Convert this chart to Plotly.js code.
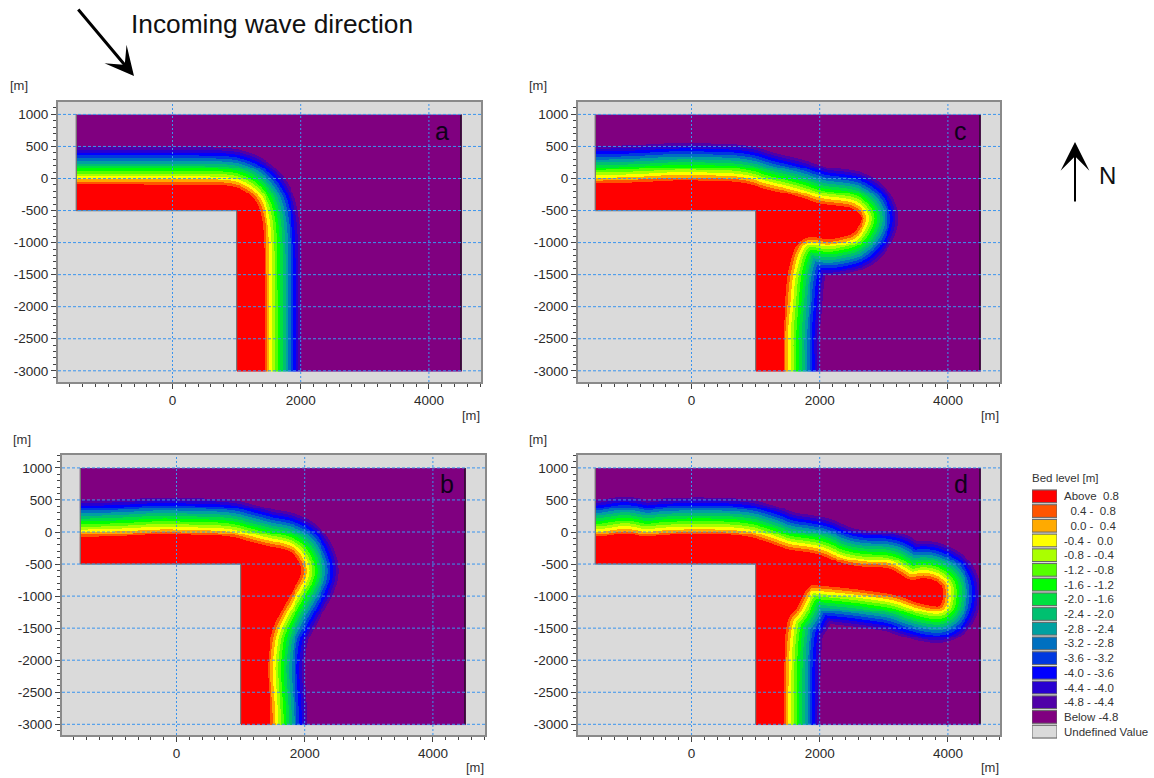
<!DOCTYPE html>
<html><head><meta charset="utf-8">
<script src="https://cdn.plot.ly/plotly-3.0.1.min.js"></script>
<style>html,body{margin:0;padding:0;background:#fff}#c{width:1154px;height:778px}.heatmaplayer image{filter:blur(0.4px)}</style>
</head><body><div id="c"></div>
<script>
// Position of the 0.8 m bed-level contour
const coastAx=[-3000,-1500,200,800,1000,1150,1280,1370,1415,1430,1430,1430];
const coastAy=[-90,-90,-90,-95,-130,-200,-320,-500,-800,-1200,-3000,-5000];
const coastBx=[-3000,-1489,-777,-257,263,783,1095,1407,1667,1849,1953,1937,1771,1615,1485,1433,1417,1440,1470,1470];
const coastBy=[-83,-83,-63,-31,-47,-57,-135,-219,-255,-343,-551,-697,-983,-1269,-1529,-1893,-2153,-2500,-3000,-5000];
const coastCx=[-3000,-1500,-855,-231,289,809,1173,1485,1797,2005,2369,2525,2655,2629,2525,2369,2109,1927,1797,1667,1563,1485,1459,1423,1430,1430];
const coastCy=[-75,-75,-60,-23,-34,-50,-169,-231,-325,-398,-429,-465,-585,-700,-856,-907,-949,-907,-907,-985,-1193,-1583,-1999,-2363,-3000,-5000];
const coastDx=[-3000,-1479,-1219,-1063,-907,-725,-439,81,809,1173,1485,1797,2005,2317,2681,3071,3253,3409,3643,3903,3929,3903,3799,3461,3201,2837,2421,2005,1849,1745,1615,1511,1459,1433,1430,1430];
const coastDy=[-83,-83,-47,-21,-37,-83,-47,-31,-47,-151,-271,-307,-343,-489,-551,-551,-655,-759,-697,-801,-957,-1139,-1165,-1087,-983,-931,-879,-843,-827,-957,-1243,-1321,-1633,-2153,-3000,-5000];

const profileWidth=575;   // m between the 0.8 and -4.8 contours
const levelTop=0.8, levelBottom=-4.8;

const legendLabels=['Above\u00a0\u00a00.8','\u00a0\u00a00.4\u00a0-\u00a0\u00a00.8','\u00a0\u00a00.0\u00a0-\u00a0\u00a00.4','-0.4\u00a0-\u00a0\u00a00.0','-0.8\u00a0-\u00a0-0.4','-1.2\u00a0-\u00a0-0.8','-1.6\u00a0-\u00a0-1.2','-2.0\u00a0-\u00a0-1.6','-2.4\u00a0-\u00a0-2.0','-2.8\u00a0-\u00a0-2.4','-3.2\u00a0-\u00a0-2.8','-3.6\u00a0-\u00a0-3.2','-4.0\u00a0-\u00a0-3.6','-4.4\u00a0-\u00a0-4.0','-4.8\u00a0-\u00a0-4.4','Below\u00a0-4.8','Undefined Value'];
const bandColors=['#ff0000','#ff5500','#ffaa00','#ffff00','#aaff00','#55ff00','#00ff00','#00e040','#00c070','#00a0a0','#0070c0','#0038e0','#0000ff','#2800d0','#5000a8','#800080'];
const undefinedColor='#dadada';
const xTicks=[0,2000,4000];
const yTicks=[1000,500,0,-500,-1000,-1500,-2000,-2500,-3000];
const panelNames=['a','b','c','d'];

const W=1154,H=778;
const px=v=>v/W, py=v=>1-v/H;

// round the corners of a read contour (corner cutting, end points kept)
function rounded(xs,ys,passes){
  let X=xs.slice(),Y=ys.slice();
  for(let p=0;p<passes;p++){
    const nx=[X[0]],ny=[Y[0]];
    for(let i=0;i<X.length-1;i++){
      nx.push(0.75*X[i]+0.25*X[i+1],0.25*X[i]+0.75*X[i+1]);
      ny.push(0.75*Y[i]+0.25*Y[i+1],0.25*Y[i]+0.75*Y[i+1]);
    }
    nx.push(X[X.length-1]);ny.push(Y[Y.length-1]);
    X=nx;Y=ny;
  }
  return [X,Y];
}

function field(cx0,cy0){
  const [cx,cy]=rounded(cx0,cy0,2);
  const xs=[],ys=[],z=[],step=15;
  for(let x=-1500;x<=4500;x+=step)xs.push(x);
  for(let y=-3000;y<=1000;y+=step)ys.push(y);
  const n=cx.length;
  const polyX=cx.concat([-3000]), polyY=cy.concat([-5000]);
  for(const y of ys){
    const row=[];
    for(const x of xs){
      if(x<1000&&y<-500){row.push(null);continue;}
      let d2=Infinity;
      for(let i=0;i<n-1;i++){
        const ax=cx[i],ay=cy[i],bx=cx[i+1]-ax,by=cy[i+1]-ay;
        const len=bx*bx+by*by;
        let t=len?((x-ax)*bx+(y-ay)*by)/len:0;
        t=Math.max(0,Math.min(1,t));
        const dx=x-ax-t*bx,dy=y-ay-t*by,d=dx*dx+dy*dy;
        if(d<d2)d2=d;
      }
      let inside=false;
      for(let i=0,j=polyX.length-1;i<polyX.length;j=i++){
        if((polyY[i]>y)!==(polyY[j]>y)&&x<(polyX[j]-polyX[i])*(y-polyY[i])/(polyY[j]-polyY[i])+polyX[i])inside=!inside;
      }
      const level=inside?levelTop+0.4:levelTop-Math.sqrt(d2)*(levelTop-levelBottom)/profileWidth;
      row.push(Math.max(levelBottom-0.4,Math.min(levelTop+0.4,level)));
    }
    z.push(row);
  }
  return {xs,ys,z};
}

// stepped colour scale, lowest band first
const rev=bandColors.slice().reverse(),scale=[];
rev.forEach((c,i)=>{scale.push([i/rev.length,c]);scale.push([(i+1)/rev.length,c]);});

// pixel boxes of the four panels: left, right, top, bottom, and the pixel x/y of the origin
const boxes=[
  {l:58,r:481,t:102,b:382,x0:172.5,y0:178.5,xs:coastAx,ys:coastAy,lx:442,ly:131,ux:471,uy:415,vx:19,vy:86},
  {l:62,r:485,t:455,b:735,x0:176.5,y0:532,xs:coastBx,ys:coastBy,lx:447,ly:484,ux:475,uy:767,vx:22,vy:439},
  {l:578,r:1000,t:102,b:382,x0:691.5,y0:178.5,xs:coastCx,ys:coastCy,lx:960,ly:131,ux:990,uy:415,vx:538,vy:86},
  {l:578,r:1000,t:455,b:735,x0:691.5,y0:532,xs:coastDx,ys:coastDy,lx:961,ly:484,ux:990,uy:767,vx:538,vy:439}
];
const k=0.0641;
const tickFont={family:'"Liberation Sans",Arial,sans-serif',size:13.5,color:'#2a2a2a'};
const textFont=(s,c)=>({family:'"Liberation Sans",Arial,sans-serif',size:s,color:c||'#222'});

const traces=[],shapes=[],annotations=[];
const layout={width:W,height:H,margin:{l:0,r:0,t:0,b:0},paper_bgcolor:'#fff',plot_bgcolor:undefinedColor,showlegend:false,shapes,annotations};
const note=(t,x,y,s,c,a)=>annotations.push({text:t,x:px(x),y:py(y),xref:'paper',yref:'paper',showarrow:false,font:textFont(s,c),xanchor:a||'center',yanchor:'middle'});

boxes.forEach((b,i)=>{
  const s=i?String(i+1):'';
  const f=field(b.xs,b.ys);
  traces.push({type:'heatmap',x:f.xs,y:f.ys,z:f.z,xaxis:'x'+s,yaxis:'y'+s,colorscale:scale,zmin:levelBottom-0.4,zmax:levelTop+0.4,showscale:false,hoverongaps:false,zsmooth:false});
  layout['xaxis'+s]={domain:[px(b.l),px(b.r)],anchor:'y'+s,range:[(b.l-b.x0)/k,(b.r-b.x0)/k],tickmode:'array',tickvals:xTicks,ticktext:xTicks.map(String),
    ticks:'outside',ticklen:5,tickcolor:'#444',tickfont:tickFont,showgrid:false,zeroline:false,showline:true,linecolor:'#8a8a8a',linewidth:2,mirror:true,
    minor:{tickmode:'linear',tick0:0,dtick:200,ticks:'outside',ticklen:3,tickcolor:'#444',showgrid:false}};
  layout['yaxis'+s]={domain:[py(b.b),py(b.t)],anchor:'x'+s,range:[(b.y0-b.b)/k,(b.y0-b.t)/k],tickmode:'array',tickvals:yTicks,ticktext:yTicks.map(String),
    ticks:'outside',ticklen:5,tickcolor:'#444',tickfont:tickFont,showgrid:false,zeroline:false,showline:true,linecolor:'#8a8a8a',linewidth:2,mirror:true,
    minor:{tickmode:'linear',tick0:0,dtick:100,ticks:'outside',ticklen:3,tickcolor:'#444',showgrid:false}};
  const xr='x'+s,yr='y'+s;
  const seg=(x0,y0,x1,y1,c,w,dash)=>shapes.push({type:'line',xref:xr,yref:yr,x0,y0,x1,y1,layer:'above',line:{color:c,width:w,dash:dash||'solid'}});
  const xa=layout['xaxis'+s].range,ya=layout['yaxis'+s].range;
  seg(-1500,-500,-1500,1000,'#777',1.2);
  seg(-1500,-500,1000,-500,'#777',1.2);
  seg(1000,-500,1000,-3000,'#777',1.2);
  seg(4500,-3000,4500,1000,'#111',1.2);
  xTicks.forEach(t=>seg(t,ya[0],t,ya[1],'#3a94ee',1,'2px,2px'));
  yTicks.forEach(t=>seg(xa[0],t,xa[1],t,'#3a94ee',1,'3px,2px'));
  note(panelNames[i],b.lx,b.ly,25,'#10001a');
  note('[m]',b.ux,b.uy,13,'#333');
  note('[m]',b.vx,b.vy,13,'#333');
});

// legend swatches
traces.push({type:'bar',orientation:'h',x:legendLabels.map(()=>1),y:legendLabels,xaxis:'x5',yaxis:'y5',
  marker:{color:bandColors.concat([undefinedColor]),line:{color:'#666',width:1}},hoverinfo:'y'});
layout.xaxis5={domain:[px(1032),px(1057)],anchor:'y5',range:[0,1],visible:false,fixedrange:true};
layout.yaxis5={domain:[py(739),py(489)],anchor:'x5',side:'right',type:'category',categoryorder:'array',categoryarray:legendLabels,autorange:'reversed',
  showgrid:false,zeroline:false,showline:false,ticks:'',tickfont:textFont(11.5,'#333'),ticklabelstandoff:6,tickmode:'array',tickvals:legendLabels,ticktext:legendLabels,fixedrange:true};
layout.bargap=0.14;
note('Bed level [m]',1030,478,11.5,'#333','left');

note('Incoming wave direction',129,24,26.3,'#111','left');
note('N',1107,175,24,'#111');
const arrow=(x0,y0,x1,y1,w,size)=>annotations.push({x:px(x1),y:py(y1),xref:'paper',yref:'paper',axref:'paper',ayref:'paper',ax:px(x0),ay:py(y0),text:'',showarrow:true,arrowhead:3,arrowsize:size,arrowwidth:w,arrowcolor:'#000'});
arrow(77,8,134,76,3,1.6);
arrow(1075,203,1075,142,2,2.4);

Plotly.newPlot('c',traces,layout,{displayModeBar:false,staticPlot:true});
</script></body></html>
